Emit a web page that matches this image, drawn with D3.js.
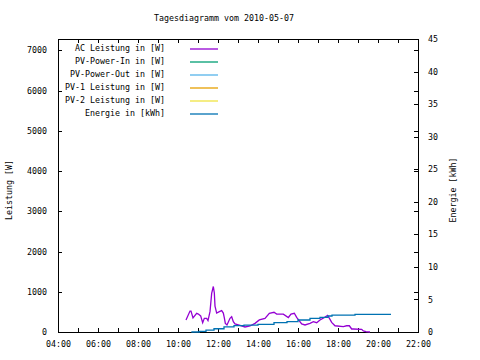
<!DOCTYPE html>
<html>
<head>
<meta charset="utf-8">
<script src="https://cdn.jsdelivr.net/npm/d3@7"></script>
<style>
  body { margin: 0; background: #fff; }
  svg text { font-family: "DejaVu Sans Mono", monospace; font-size: 8.3px; fill: #000; }
</style>
</head>
<body>
<div id="chart"></div>
<script>
// AC power readings (time, watts)
var acTimes = ["10:24","10:36","10:39","10:45","10:56","11:01","11:08","11:14","11:19","11:26",
  "11:30","11:36","11:41","11:46","11:49","11:51","11:56","12:04","12:11","12:16",
  "12:19","12:22","12:27","12:36","12:41","12:46","12:51","13:01","13:21","13:36",
  "13:51","14:04","14:21","14:34","14:48","14:56","15:16","15:31","15:39","15:49",
  "15:56","16:11","16:21","16:36","16:46","16:56","17:06","17:21","17:29","17:36",
  "17:41","17:51","18:16","18:26","18:34","18:41","18:46","19:11","19:16","19:24","19:36"];
var acWatts = [300,520,520,350,465,445,400,230,340,340,
  285,505,960,1130,970,645,470,505,530,470,
  350,215,175,340,380,255,200,175,125,150,
  215,300,340,465,490,445,445,360,445,465,
  365,200,175,215,255,230,300,370,410,315,
  240,155,135,155,155,75,75,65,25,10,0];

// daily energy (time, kWh)
var energyTimes = ["10:40","11:04","11:24","11:48","12:18","12:48","13:18","14:00","14:48","15:27",
  "16:00","16:36","17:06","17:30","17:42","18:51","20:39"];
var energyKwh = [0,0.1,0.3,0.5,0.8,0.97,1.07,1.18,1.43,1.58,
  1.84,2.1,2.26,2.46,2.6,2.72,2.72];

var seriesNames = ["AC Leistung in [W]","PV-Power-In in [W]","PV-Power-Out in [W]",
  "PV-1 Leistung in [W]","PV-2 Leistung in [W]","Energie in [kWh]"];
var seriesColors = ["#9400d3","#009e73","#56b4e9","#e69f00","#f0e442","#0072b2"];

var xTickLabels = ["04:00","06:00","08:00","10:00","12:00","14:00","16:00","18:00","20:00","22:00"];

var margin = {top: 39, right: 62, bottom: 28, left: 58},
    width = 480 - margin.left - margin.right,
    height = 360 - margin.top - margin.bottom;

function hours(s) {
  var p = s.split(":");
  return +p[0] + (+p[1]) / 60;
}

var x = d3.scaleLinear().domain([4, 22]).range([0, width]);
var y = d3.scaleLinear().domain([0, 7280]).range([height, 0]);
var y2 = d3.scaleLinear().domain([0, 45]).range([height, 0]);

var svg = d3.select("#chart").append("svg")
  .attr("width", 480)
  .attr("height", 360);

svg.append("text")
  .attr("x", 224)
  .attr("y", 21)
  .attr("text-anchor", "middle")
  .text("Tagesdiagramm vom 2010-05-07");

var g = svg.append("g")
  .attr("transform", "translate(" + margin.left + "," + margin.top + ")");

var hourTicks = d3.range(4, 23, 1);

// Bottom axis (ticks inward)
var xAxis = d3.axisBottom(x).tickValues(hourTicks).tickSize(-4)
  .tickFormat(function(d) { return d % 2 === 0 ? xTickLabels[(d - 4) / 2] : ""; });
var gx = g.append("g")
  .attr("transform", "translate(0," + height + ")")
  .call(xAxis);
gx.selectAll("text").attr("dy", "0").attr("y", 15);

// Top mirror
g.append("g").call(d3.axisTop(x).tickValues(hourTicks).tickSize(-4).tickFormat(""));

// Left axis
var yAxis = d3.axisLeft(y).tickValues(d3.range(0, 7001, 1000)).tickSize(-4).tickPadding(11)
  .tickFormat(d3.format("d"));
g.append("g").call(yAxis);

// Right side: mirrored W ticks plus kWh axis
g.append("g").attr("transform", "translate(" + width + ",0)")
  .call(d3.axisRight(y).tickValues(d3.range(0, 7001, 1000)).tickSize(-4).tickFormat(""));
g.append("g").attr("transform", "translate(" + width + ",0)")
  .call(d3.axisRight(y2).tickValues(d3.range(0, 46, 5)).tickSize(-4).tickPadding(10));

g.selectAll(".domain").remove();
g.selectAll(".tick line").attr("stroke", "#000").attr("shape-rendering", "crispEdges");
g.selectAll(".tick text").style("font-family", "\"DejaVu Sans Mono\", monospace").style("font-size", "8.3px");

g.append("rect")
  .attr("x", 0).attr("y", 0)
  .attr("width", width).attr("height", height)
  .attr("fill", "none").attr("stroke", "#000")
  .attr("shape-rendering", "crispEdges");

// Axis titles
svg.append("text")
  .attr("transform", "translate(12,190) rotate(-90)")
  .attr("text-anchor", "middle")
  .text("Leistung [W]");
svg.append("text")
  .attr("transform", "translate(456,190) rotate(-90)")
  .attr("text-anchor", "middle")
  .text("Energie [kWh]");

// Lines
var acLine = d3.line()
  .x(function(d, i) { return x(hours(acTimes[i])); })
  .y(function(d) { return y(d); });
g.append("path")
  .attr("d", acLine(acWatts))
  .attr("fill", "none")
  .attr("stroke", seriesColors[0])
  .attr("stroke-width", 1.3);

var energyLine = d3.line()
  .curve(d3.curveStepAfter)
  .x(function(d, i) { return x(hours(energyTimes[i])); })
  .y(function(d) { return y2(d); });
g.append("path")
  .attr("d", energyLine(energyKwh))
  .attr("fill", "none")
  .attr("stroke", seriesColors[5])
  .attr("stroke-width", 1.3);

// Legend
var legend = svg.append("g");
seriesNames.forEach(function(name, i) {
  var ly = 48 + i * 13;
  legend.append("text")
    .attr("x", 165)
    .attr("y", ly + 3)
    .attr("text-anchor", "end")
    .text(name);
  legend.append("line")
    .attr("x1", 190).attr("x2", 218)
    .attr("y1", ly + 1).attr("y2", ly + 1)
    .attr("stroke", seriesColors[i])
    .attr("stroke-width", 1.3);
});
</script>
</body>
</html>
